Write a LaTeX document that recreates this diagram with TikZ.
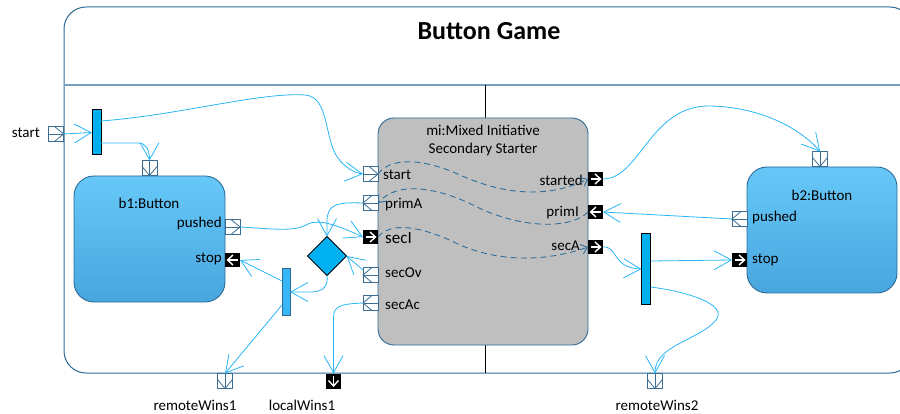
\documentclass[tikz,border=0pt]{standalone}
\usepackage{fontspec}
\setmainfont{Carlito}
\usetikzlibrary{arrows.meta,shapes.geometric,calc}
\definecolor{framec}{RGB}{46,106,150}
\definecolor{sepc}{RGB}{120,160,190}
\definecolor{connc}{RGB}{41,182,246}
\definecolor{dashc}{RGB}{47,110,154}
\definecolor{portc}{RGB}{60,110,147}
\definecolor{grayc}{RGB}{191,191,191}
\definecolor{btop}{RGB}{102,200,248}
\definecolor{bbot}{RGB}{72,166,222}
\definecolor{forkc}{RGB}{0,176,240}
\definecolor{fork2c}{RGB}{56,182,245}
\newcommand\portR[1]{\draw[portc,line width=0.8pt] (#1.west) -- (#1.east);
  \draw[portc,line width=0.8pt] ($(#1.north west)!0.4!(#1.north east)$) -- (#1.east) -- ($(#1.south west)!0.4!(#1.south east)$);}
\newcommand\portL[1]{\draw[portc,line width=0.8pt] (#1.west) -- (#1.east);
  \draw[portc,line width=0.8pt] ($(#1.north west)!0.6!(#1.north east)$) -- (#1.west) -- ($(#1.south west)!0.6!(#1.south east)$);}
\newcommand\portD[1]{\draw[portc,line width=0.8pt] (#1.north) -- (#1.south);
  \draw[portc,line width=0.8pt] ($(#1.north west)!0.4!(#1.south west)$) -- (#1.south) -- ($(#1.north east)!0.4!(#1.south east)$);}
\newcommand\portBR[1]{\draw[white,line width=1.4pt] ([xshift=2.5pt]#1.west) -- ([xshift=-2.5pt]#1.east);
  \draw[white,line width=1.4pt,line join=miter] ([xshift=-8pt,yshift=5pt]#1.east) -- ([xshift=-2.5pt]#1.east) -- ([xshift=-8pt,yshift=-5pt]#1.east);}
\newcommand\portBL[1]{\draw[white,line width=1.4pt] ([xshift=2.5pt]#1.west) -- ([xshift=-2.5pt]#1.east);
  \draw[white,line width=1.4pt,line join=miter] ([xshift=8pt,yshift=5pt]#1.west) -- ([xshift=2.5pt]#1.west) -- ([xshift=8pt,yshift=-5pt]#1.west);}
\newcommand\portBD[1]{\draw[white,line width=1.4pt] ([yshift=-2.5pt]#1.north) -- ([yshift=2.5pt]#1.south);
  \draw[white,line width=1.4pt,line join=miter] ([xshift=-5pt,yshift=8pt]#1.south) -- ([yshift=2.5pt]#1.south) -- ([xshift=5pt,yshift=8pt]#1.south);}
\tikzset{
  lbl/.style={font=\fontsize{15}{18}\selectfont, inner sep=0},
  port/.style={rectangle, minimum width=15pt, minimum height=15pt, inner sep=0, outer sep=0, draw=portc, line width=0.9pt, fill=white},
  bport/.style={rectangle, minimum width=15pt, minimum height=14pt, inner sep=0, outer sep=0, fill=black},
  btn/.style={rectangle, rounded corners=20pt, draw=framec, line width=0.9pt, top color=btop, bottom color=bbot, minimum width=151pt, minimum height=126pt, inner sep=0, outer sep=0},
  fork/.style={rectangle, draw=black, line width=1pt, fill=forkc, inner sep=0, outer sep=0},
  conn/.style={draw=connc, line width=0.8pt, -{Straight Barb[length=17pt,width=19pt,line width=0.8pt]}},
  dconn/.style={draw=dashc, line width=0.9pt, dash pattern=on 6pt off 4pt, -{Straight Barb[length=6pt,width=10pt,line width=0.9pt]}}
}
\begin{document}
\begin{tikzpicture}[x=1pt,y=-1pt]
\useasboundingbox (0,0) rectangle (900,414);
\clip (0,0) rectangle (900,414);
% frame
\draw[framec, line width=1pt, rounded corners=22pt] (64,373) -- (64,7) -- (912,7) -- (912,373) -- cycle;
\draw[sepc, line width=1.2pt] (64,85) -- (912,85);
\draw[black, line width=0.9pt] (485,85) -- (485,118);
\draw[black, line width=0.9pt] (485,345) -- (485,373);
\node[font=\fontsize{26}{30}\selectfont\bfseries, inner sep=0] (title) at (489,31) {Button Game};

% blocks
\node[rectangle, rounded corners=16pt, draw=framec, line width=0.9pt, fill=grayc, minimum width=210pt, minimum height=227pt, inner sep=0, outer sep=0] (mi) at (483,231.5) {};
\node[btn] (b1) at (149.5,239) {};
\node[btn, minimum width=150pt] (b2) at (822,230) {};
\node[lbl] at (483,130) {mi:Mixed Initiative};
\node[lbl] at (483,150) {Secondary Starter};
\node[lbl] at (149,203) {b1:Button};
\node[lbl] at (822,195) {b2:Button};

% forks and decision
\node[fork, minimum width=9pt, minimum height=45pt] (f1) at (96.5,132.5) {};
\node[fork, draw=framec, fill=fork2c, minimum width=8pt, minimum height=46pt] (f2) at (286,292) {};
\node[fork, minimum width=9pt, minimum height=70pt] (f3) at (646,269) {};
\node[diamond, aspect=1, minimum width=39pt, minimum height=39pt, draw=black, line width=1pt, fill=forkc, inner sep=0, outer sep=0] (dia) at (327,256) {};

% ports
\node[port] (pstart) at (56,134) {};
\node[port] (pmistart) at (370.5,174) {};
\node[port] (pprimA) at (370.5,203) {};
\node[bport] (psecI) at (370.5,237) {};
\node[port] (psecOv) at (370.5,275) {};
\node[port] (psecAc) at (370.5,303) {};
\node[bport] (pstarted) at (595.5,179) {};
\node[bport] (pprimI) at (595.5,212) {};
\node[bport] (psecA) at (595.5,247) {};
\node[port] (pb1in) at (149.5,168) {};
\node[port] (pb1push) at (232.5,227) {};
\node[bport] (pb1stop) at (232.5,260) {};
\node[port] (pb2in) at (820,159) {};
\node[port] (pb2push) at (739.5,219) {};
\node[bport] (pb2stop) at (739.5,260) {};
\node[port] (prw1) at (225,381) {};
\node[bport, minimum width=15pt, minimum height=15pt] (plw1) at (333.5,381) {};
\node[port] (prw2) at (655,381) {};
\portR{pstart}
\portR{pmistart}
\portL{pprimA}
\portBR{psecI}
\portL{psecOv}
\portL{psecAc}
\portBR{pstarted}
\portBL{pprimI}
\portBR{psecA}
\portD{pb1in}
\portR{pb1push}
\portBL{pb1stop}
\portD{pb2in}
\portL{pb2push}
\portBR{pb2stop}
\portD{prw1}
\portBD{plw1}
\portD{prw2}

% port labels
\node[lbl, anchor=east] at (40,133) {start};
\node[lbl] at (195,405) {remoteWins1};
\node[lbl] at (302,405) {localWins1};
\node[lbl] at (657,405) {remoteWins2};
\node[lbl, anchor=west] at (383,175) {start};
\node[lbl, anchor=west] at (385,205) {primA};
\node[lbl, anchor=west, font=\fontsize{17}{20}\selectfont] at (385,238) {secI};
\node[lbl, anchor=west] at (385,273) {secOv};
\node[lbl, anchor=west] at (385,305) {secAc};
\node[lbl, anchor=east] at (583,180) {started};
\node[lbl, anchor=east] at (579,213) {primI};
\node[lbl, anchor=east] at (580,246) {secA};
\node[lbl, anchor=east] at (222,224) {pushed};
\node[lbl, anchor=east] at (222,259) {stop};
\node[lbl, anchor=west] at (752,218) {pushed};
\node[lbl, anchor=west] at (752,260) {stop};

% internal dashed flows
\draw[dconn] (pmistart.east) .. controls (390,158) and (420,157) .. (460,175) .. controls (500,193) and (545,200) .. (pstarted.west);
\draw[dconn] (pprimI.west) .. controls (570,230) and (520,228) .. (477,207) .. controls (440,188) and (398,180) .. (pprimA.east);
\draw[dconn] (psecI.east) .. controls (390,222) and (420,225) .. (460,245) .. controls (500,262) and (545,262) .. (psecA.west);

% connectors
\draw[conn] (pstart.east) -- (f1.west);
\draw[conn] (f1.east |- 0,121) .. controls (180,115) and (260,92) .. (305,95) .. controls (330,97) and (324,140) .. (338,158) .. controls (345,168) and (355,173) .. (pmistart.west);
\draw[conn] (f1.east |- 0,143) -- (138,143) .. controls (146,143) and (149.5,150) .. (pb1in.north);
\draw[conn] (pb1push.east) .. controls (275,229) and (295,232) .. (308,224) .. controls (318,219) and (335,224) .. (psecI.west);
\draw[conn] (pprimA.west) .. controls (335,202) and (327,205) .. (327,222) -- (dia.north);
\draw[conn] (psecOv.west |- 0,270) -- (dia.east);
\draw[conn] (dia.south) .. controls (328,285) and (325,292) .. (310,292) -- (f2.east);
\draw[conn] (f2.west |- 0,281) -- (pb1stop.east);
\draw[conn] (f2.west |- 0,305) -- (prw1.north);
\draw[conn] (psecAc.west) .. controls (340,304) and (333.5,306) .. (333.5,318) -- (plw1.north);
\draw[conn] (pstarted.east) .. controls (640,179) and (650,105) .. (710,106) .. controls (760,107) and (800,128) .. (pb2in.north);
\draw[conn] (pb2push.west) -- (pprimI.east);
\draw[conn] (psecA.east) .. controls (618,246) and (612,268) .. (f3.west);
\draw[conn] (f3.east |- 0,261) -- (pb2stop.west);
\draw[conn] (f3.east |- 0,287) .. controls (690,292) and (728,305) .. (716,320) .. controls (700,340) and (655,345) .. (prw2.north);
\end{tikzpicture}
\end{document}
